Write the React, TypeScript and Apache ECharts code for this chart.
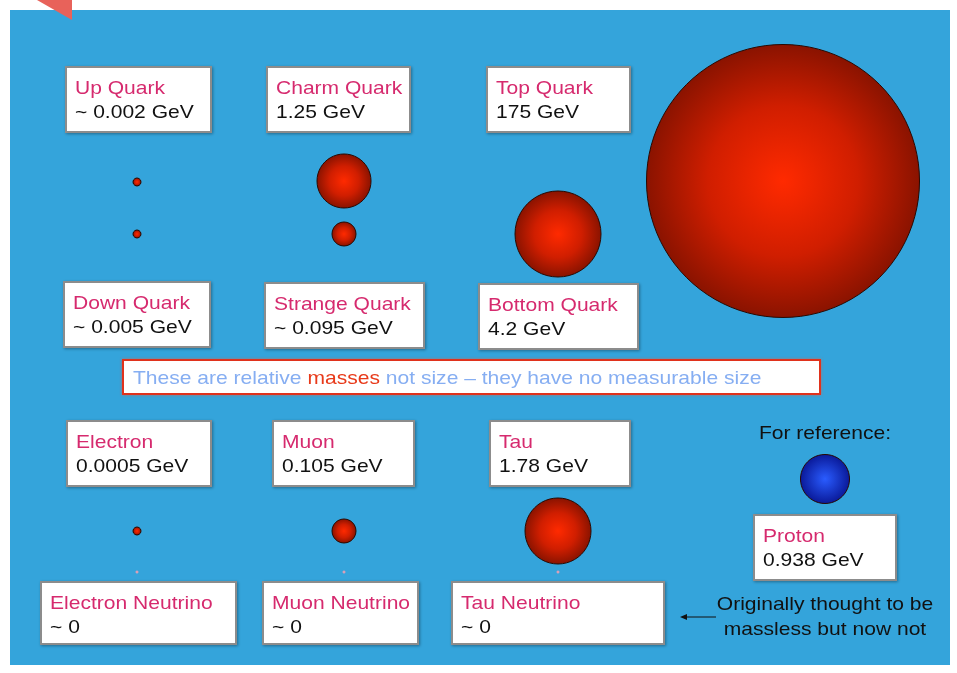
import React, { useEffect, useRef } from "react";
import * as echarts from "echarts";

// ---- data ----
const particleNames = [
  "Up Quark", "Charm Quark", "Top Quark",
  "Down Quark", "Strange Quark", "Bottom Quark",
  "Electron", "Muon", "Tau",
  "Electron Neutrino", "Muon Neutrino", "Tau Neutrino",
  "Proton",
];
const massLabels = [
  "~ 0.002 GeV", "1.25 GeV", "175 GeV",
  "~ 0.005 GeV", "~ 0.095 GeV", "4.2 GeV",
  "0.0005 GeV", "0.105 GeV", "1.78 GeV",
  "~ 0", "~ 0", "~ 0",
  "0.938 GeV",
];
// relative sphere diameters (px) as drawn in the picture
const sphereDiameters = [8, 54, 273, 8, 24, 86, 8, 24, 66, 3, 3, 3, 49];
const sphereKinds = ["red", "red", "red", "red", "red", "red", "red", "red", "red", "nu", "nu", "nu", "blue"];

const noteText = ["These are relative ", "masses", " not size \u2013 they have no measurable size"];
const referenceText = "For reference:";
const neutrinoNote = ["Originally thought to be", "massless but now not"];

// ---- layout (positions / sizes) ----
const boxLayout: number[][] = [
  [66, 67, 145, 65], [267, 67, 143, 65], [487, 67, 143, 65],
  [64, 282, 146, 65], [265, 283, 159, 65], [479, 284, 159, 65],
  [67, 421, 144, 65], [273, 421, 141, 65], [490, 421, 140, 65],
  [41, 582, 195, 62], [263, 582, 155, 62], [452, 582, 212, 62],
  [754, 515, 142, 65],
];
const sphereCenters: number[][] = [
  [137, 182], [344, 181], [783, 181],
  [137, 234], [344, 234], [558, 234],
  [137, 531], [344, 531], [558, 531],
  [137, 572], [344, 572], [558, 572],
  [825, 479],
];

const FONT = '"Liberation Sans", Arial, sans-serif';
const SX = 1.17;
const TITLE_COLOR = "#d62a6e";

function sphereFill(kind: string) {
  if (kind === "blue") {
    return {
      type: "radial", x: 0.5, y: 0.5, r: 0.5,
      colorStops: [{ offset: 0, color: "#2a5cff" }, { offset: 1, color: "#0a1a9a" }],
    };
  }
  if (kind === "nu") return "#d9a0b8";
  return {
    type: "radial", x: 0.5, y: 0.5, r: 0.5,
    colorStops: [{ offset: 0, color: "#ff2a00" }, { offset: 0.55, color: "#d01e00" }, { offset: 1, color: "#8a1300" }],
  };
}

function textEl(x: number, y: number, text: string, fill: string, size = 18, extra: any = {}) {
  return {
    type: "text",
    x, y, scaleX: SX,
    silent: true,
    style: { text, x: 0, y: 0, fill, fontSize: size, fontFamily: FONT, verticalAlign: "middle", ...extra },
  };
}

export default function App() {
  const ref = useRef<HTMLDivElement>(null);
  useEffect(() => {
    if (!ref.current) return;
    const chart = echarts.init(ref.current, null, { renderer: "svg" });
    const els: any[] = [];
    // page background
    els.push({ type: "rect", shape: { x: 0, y: 0, width: 957, height: 673 }, style: { fill: "#ffffff" }, silent: true });
    els.push({ type: "rect", shape: { x: 10, y: 10, width: 940, height: 655 }, style: { fill: "#34a4db" }, silent: true });
    els.push({ type: "polygon", shape: { points: [[37, 0], [72, 0], [72, 20]] }, style: { fill: "#e8625a" }, silent: true });

    // spheres
    sphereDiameters.forEach((d, i) => {
      const [cx, cy] = sphereCenters[i];
      const kind = sphereKinds[i];
      els.push({
        type: "circle",
        shape: { cx, cy, r: d / 2 },
        style: {
          fill: sphereFill(kind),
          stroke: kind === "nu" ? null : "#2a0800",
          lineWidth: kind === "nu" ? 0 : 1,
        },
        silent: true,
      });
    });

    // label boxes
    particleNames.forEach((name, i) => {
      const [bx, by, bw, bh] = boxLayout[i];
      els.push({
        type: "rect",
        shape: { x: bx, y: by, width: bw, height: bh },
        style: { fill: "#ffffff", stroke: "#8c8c8c", lineWidth: 2, shadowBlur: 3, shadowColor: "rgba(0,0,0,0.35)", shadowOffsetX: 1, shadowOffsetY: 1 },
        silent: true,
      });
      els.push(textEl(bx + 9, by + 21, name, TITLE_COLOR));
      els.push(textEl(bx + 9, by + 45, massLabels[i], "#111111"));
    });

    // note box
    els.push({
      type: "rect",
      shape: { x: 123, y: 360, width: 697, height: 34 },
      style: { fill: "#ffffff", stroke: "#e0301e", lineWidth: 2, shadowBlur: 3, shadowColor: "rgba(255,80,40,0.6)" },
      silent: true,
    });
    els.push({
      type: "text", x: 133, y: 378, scaleX: SX, silent: true,
      style: {
        text: `{a|${noteText[0]}}{b|${noteText[1]}}{a|${noteText[2]}}`,
        x: 0, y: 0, verticalAlign: "middle", fontFamily: FONT, fontSize: 18,
        rich: {
          a: { fill: "#86aef2", fontSize: 18, fontFamily: FONT },
          b: { fill: "#e83a1a", fontSize: 18, fontFamily: FONT },
        },
      },
    });

    // reference texts
    els.push({
      type: "text", x: 825, y: 433, scaleX: SX, silent: true,
      style: { text: referenceText, x: 0, y: 0, align: "center", verticalAlign: "middle", fill: "#111", fontSize: 18, fontFamily: FONT },
    });
    neutrinoNote.forEach((t, k) => {
      els.push({
        type: "text", x: 825, y: 604 + k * 25, scaleX: SX, silent: true,
        style: { text: t, x: 0, y: 0, align: "center", verticalAlign: "middle", fill: "#111", fontSize: 18, fontFamily: FONT },
      });
    });
    // arrow
    els.push({ type: "line", shape: { x1: 716, y1: 617, x2: 684, y2: 617 }, style: { stroke: "#111", lineWidth: 1 }, silent: true });
    els.push({ type: "polygon", shape: { points: [[680, 617], [687, 614], [687, 620]] }, style: { fill: "#111" }, silent: true });

    chart.setOption({ animation: false, graphic: { elements: els } });
    return () => chart.dispose();
  }, []);
  return <div ref={ref} style={{ position: "fixed", left: 0, top: 0, width: 957, height: 673 }} />;
}
